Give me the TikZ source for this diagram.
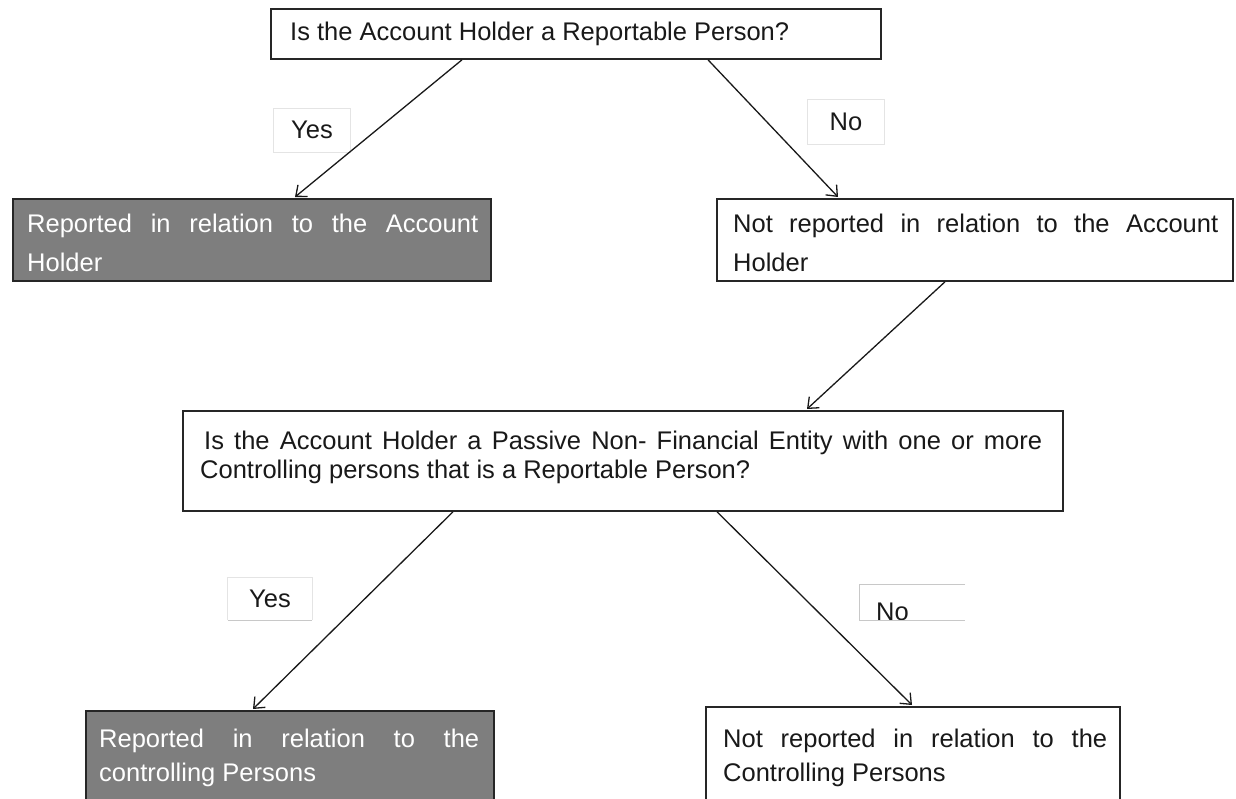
\documentclass[tikz,border=0pt]{standalone}
\usepackage{fontspec}
\setmainfont{Liberation Sans}
\usetikzlibrary{arrows.meta,calc}

\definecolor{boxgray}{RGB}{126,126,126}
\definecolor{edge}{RGB}{38,38,38}
\definecolor{ink}{RGB}{25,25,25}
\definecolor{tagedge}{RGB}{228,228,228}
\definecolor{tagline}{RGB}{200,200,200}

\begin{document}
\begin{tikzpicture}[x=1pt,y=-1pt,
  frame/.style={draw=edge, line width=1.8pt, inner sep=0pt, anchor=north west},
  plainbox/.style={frame, fill=white},
  graybox/.style={frame, fill=boxgray},
  txt/.style={inner sep=0pt, anchor=base west, text=ink,
    font=\fontsize{25.5}{30}\selectfont},
  wtxt/.style={txt, text=white},
  tag/.style={inner sep=0pt, text=ink, font=\fontsize{25.5}{30}\selectfont},
  flow/.style={draw=ink, line width=1.3pt,
    -{Straight Barb[length=9pt,width=15pt,line width=1.3pt]}}
]
\useasboundingbox (0,0) rectangle (1236,798);
\clip (0,0) rectangle (1236,798);

% boxes
\node[plainbox, minimum width=610pt, minimum height=50pt] (q1) at (270,8) {};
\node[graybox,  minimum width=478pt, minimum height=82pt] (r1) at (12,198) {};
\node[plainbox, minimum width=516pt, minimum height=82pt] (n1) at (716,198) {};
\node[plainbox, minimum width=880pt, minimum height=100pt] (q2) at (182,410) {};
\node[graybox,  minimum width=408pt, minimum height=100pt] (r2) at (85,710) {};
\node[plainbox, minimum width=414pt, minimum height=100pt] (n2) at (705,706) {};

% box texts
\node[txt] (q1t) at (290,40) {Is the Account Holder a Reportable Person?};

\node[wtxt] (r1a) at (27,232) {\makebox[451pt][s]{Reported in relation to the Account}};
\node[wtxt] (r1b) at (27,271) {Holder};

\node[txt] (n1a) at (733,232) {\makebox[485pt][s]{Not reported in relation to the Account}};
\node[txt] (n1b) at (733,271) {Holder};

\node[txt] (q2a) at (204,449) {\makebox[838pt][s]{Is the Account Holder a Passive Non- Financial Entity with one or more}};
\node[txt] (q2b) at (200,478) {Controlling persons that is a Reportable Person?};

\node[wtxt] (r2a) at (99,747) {\makebox[380pt][s]{Reported in relation to the}};
\node[wtxt] (r2b) at (99,781) {controlling Persons};

\node[txt] (n2a) at (723,747) {\makebox[384pt][s]{Not reported in relation to the}};
\node[txt] (n2b) at (723,781) {Controlling Persons};

% branch labels
\node[tag, draw=tagedge, line width=0.8pt, minimum width=77pt, minimum height=44pt] (y1) at (312,130) {Yes};
\node[tag, draw=tagedge, line width=0.8pt, minimum width=77pt, minimum height=45pt] (o1) at (846,122) {No};
\node[tag, minimum width=84pt, minimum height=42pt] (y2) at (270,599) {Yes};
\node[tag, minimum width=105pt, minimum height=35pt, text depth=0pt] (o2) at (912.5,602.5) {};
\node[tag, anchor=base west] (o2t) at (876,620) {No};

\draw[tagedge, line width=0.8pt] (y2.south west) -- (y2.north west) -- (y2.north east) -- (y2.south east);
\draw[tagline, line width=1.2pt] (y2.south west) -- (y2.south east);
\draw[tagline, line width=1.2pt] (o2.north east) -- (o2.north west) -- (o2.south west) -- (o2.south east);

% connectors
\draw[flow] ($(q1.south west)+(192,0)$) -- ($(r1.north west)+(283,-1)$);
\draw[flow] ($(q1.south west)+(438,0)$) -- ($(n1.north west)+(122,-1)$);
\draw[flow] ($(n1.south west)+(229,0)$) -- ($(q2.north west)+(625,-1)$);
\draw[flow] ($(q2.south west)+(271,0)$) -- ($(r2.north west)+(168,-1)$);
\draw[flow] ($(q2.south west)+(535,0)$) -- ($(n2.north west)+(207,-1)$);
\end{tikzpicture}
\end{document}
